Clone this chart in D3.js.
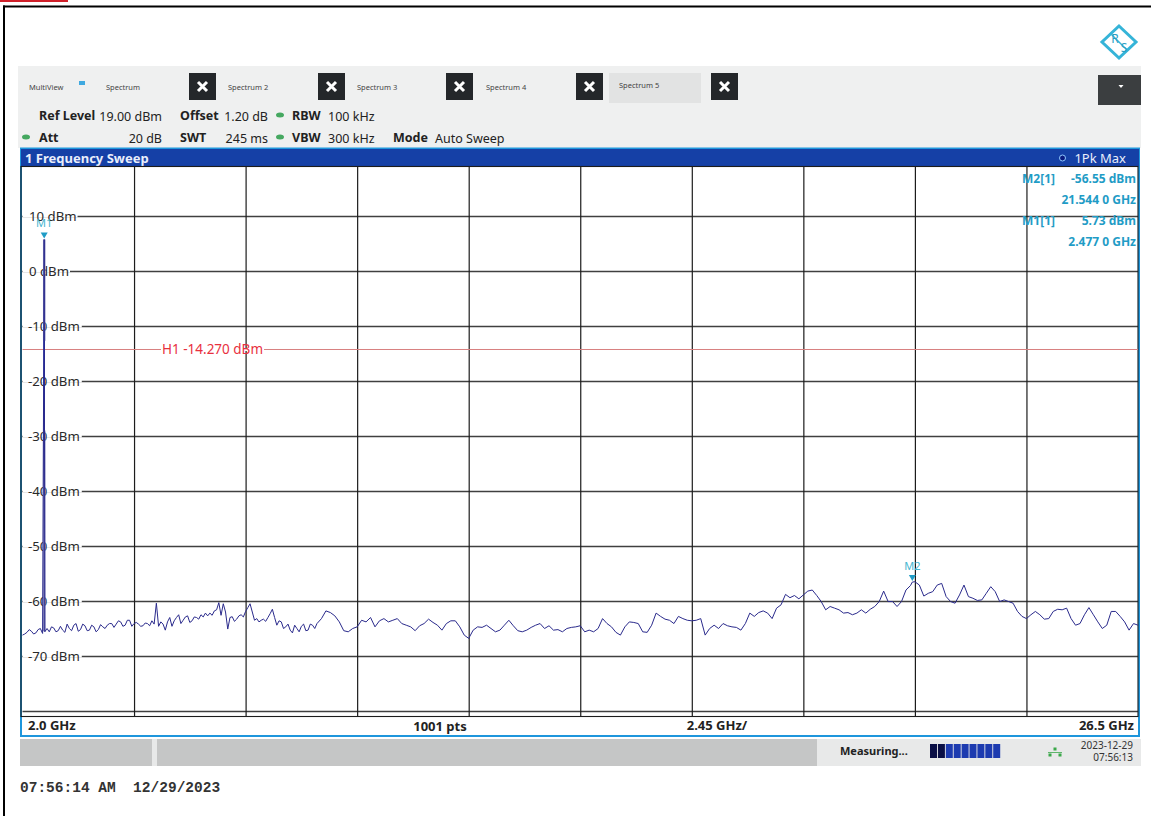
<!DOCTYPE html>
<html>
<head>
<meta charset="utf-8">
<script src="https://cdn.jsdelivr.net/npm/d3@7"></script>
<style>
html, body { margin: 0; padding: 0; background: #fff; }
svg { display: block; }
text { font-family: "Noto Sans", "Open Sans", sans-serif; white-space: pre; }
</style>
</head>
<body>
<div id="chart"></div>
<script>
// sweep: one value every 4th sweep point (0.098 GHz)
const startGHz = 2.0, stopGHz = 26.5, stepGHz = 0.098;
const traceDbm = [
  -66.2,-65.7,-65.5,-65.8,-65,-65.6,-65.6,-64.9,-65.4,-65.3,
  -64.2,-65.4,-64.1,-65.2,-64.5,-65.3,-64.7,-65.2,-64.7,-64.4,
  -64.1,-64.2,-63.8,-64.4,-63.5,-64.1,-64.2,-64.5,-64.1,-63.6,
  -60.4,-63.8,-65.3,-63,-63.6,-62.5,-63.5,-62.7,-63.6,-63,
  -62.5,-62.2,-62.2,-61.8,-60.3,-60.5,-65.1,-62.85,-63.3,-62.5,
  -61.9,-60.5,-63.5,-63.8,-63.3,-63,-61.5,-64.4,-63.8,-64.7,
  -65.3,-64.4,-65.6,-64.2,-65.3,-64.4,-64.1,-63.2,-61.8,-62.1,
  -62.7,-63.8,-65.4,-65.6,-65,-64.7,-63.5,-63.8,-63,-64.7,
  -63.6,-63.2,-63.8,-63.5,-63.2,-64.1,-64.4,-64.7,-65.4,-64.5,
  -64.1,-63.3,-63.9,-64.4,-65.3,-64.1,-63.6,-63.6,-64.7,-66.2,
  -66.8,-65.3,-64.7,-64.8,-64.4,-65,-65.6,-65.3,-64.4,-63.5,
  -64.5,-65.4,-65.6,-65.3,-64.8,-64.4,-64.1,-65,-64.5,-65.3,
  -65.2,-65.6,-65,-64.8,-64.7,-64.5,-65.6,-65.3,-65.6,-65,
  -63.2,-64.1,-64.7,-65.7,-66.2,-64.7,-63.8,-63.9,-64.1,-65.6,
  -65.7,-64.4,-62.2,-62.8,-63.3,-63.5,-64.1,-62.8,-63.2,-63.5,
  -63.6,-63.5,-63.2,-66.2,-65,-64.4,-65,-64.1,-64.5,-64.7,
  -64.8,-65.3,-64.1,-62.2,-62.8,-62.1,-61.8,-62.2,-63.2,-61.3,
  -60.7,-58.8,-59.4,-59,-59.6,-58.9,-58.2,-58,-59,-60.1,
  -61.6,-61,-61.3,-61.6,-62.2,-62.1,-62.5,-62.2,-61.6,-62.2,
  -61.5,-61,-60.1,-58.2,-60.1,-60.1,-61,-60.1,-58,-57.2,
  -56.5,-57.1,-59.1,-58.6,-58.3,-57.1,-56.8,-59.2,-60.1,-60.4,
  -58.9,-57.1,-59.2,-59.5,-59.9,-59.8,-58.6,-57.4,-58.3,-60.1,
  -59.8,-60.1,-60.4,-61.9,-62.8,-63.2,-62.5,-61.9,-62.5,-63.3,
  -63.2,-61.9,-61.5,-61.6,-61.3,-63.2,-64.4,-64.1,-62.5,-61.2,
  -62.5,-63.8,-65,-64.4,-61.9,-61.9,-62.8,-63.8,-65.3,-64.1,
  -64.4
];
// the low band is busier: in-between sweep points, 0.049 GHz after each value above
const traceBetweenDbm = [
  -66,-65.2,-66,-65.2,-65.9,-65,-64.7,-65.6,-64.6,-65.7,
  -65,-64.4,-65.5,-64.2,-65.4,-64.4,-65.6,-64.3,-65,-64.1,
  -64.8,-63.6,-64.6,-63.5,-64.6,-63.9,-64.6,-64,-64.5,-64.2,
  -64.6,-64.2,-63.8,-64.6,-63,-64.1,-62.9,-63.9,-62.9,-63.3,
  -62.9,-62.7,-62.6,-61.6,-62.6,-62,-63,-63.7,-62.7,-62.9,
  -61.2,-62,-63.2,-63.5,-63.7,-62.3,-63,-63.6,-65,-64.2,
  -65.8,-65,-64.6,-65.4,-64.2,-65
];

const markerNames = ['M1', 'M2'];
const markerGHz = [2.477, 21.544];
const markerDbm = [5.73, -56.55];

const levelTicks = [10, 0, -10, -20, -30, -40, -50, -60, -70];
const levelGrid = [10, 0, -10, -20, -30, -40, -50, -60, -70, -80];
const freqGrid = [4.45, 6.9, 9.35, 11.8, 14.25, 16.7, 19.15, 21.6, 24.05];
const h1Level = -14.27;

const tabNames = ['Spectrum', 'Spectrum 2', 'Spectrum 3', 'Spectrum 4', 'Spectrum 5'];
const tabTextX = [106, 228, 357, 486, 619];
const closeX = [189, 318, 446, 576, 711];
const progressColors = ['#0a0f45', '#0a0f45', '#1d3bb0', '#1d3bb0', '#1d3bb0', '#1d3bb0', '#1d3bb0', '#1d3bb0', '#1d3bb0'];

const width = 1151, height = 816;
const svg = d3.select('#chart').append('svg')
  .attr('width', width).attr('height', height);

const x = d3.scaleLinear().domain([startGHz, stopGHz]).range([22.5, 1138]);
const y = d3.scaleLinear().domain([19, -81]).range([166.5, 716.5]);

const cyan = '#1f9cc6';

function label(t, px, py, opt) {
  opt = opt || {};
  return svg.append('text').attr('x', px).attr('y', py)
    .attr('dominant-baseline', 'central')
    .attr('text-anchor', opt.anchor || 'start')
    .attr('font-size', opt.size || 12.5)
    .attr('font-weight', opt.bold ? 700 : 400)
    .attr('fill', opt.fill || '#222')
    .style('font-family', opt.family || null)
    .text(t);
}

function box(px, py, w, h, fill) {
  return svg.append('rect').attr('x', px).attr('y', py).attr('width', w).attr('height', h).attr('fill', fill);
}

// page frame
box(0, 0, 68, 2, '#d0202a');
box(3, 5.5, width, 2, '#000');
box(3, 5.5, 2, height, '#000');

// logo
const logo = svg.append('g').attr('transform', 'translate(1119,42)');
logo.append('path').attr('d', 'M0,-16L17,0L0,16L-17,0Z').attr('fill', 'none').attr('stroke', '#35b4d8').attr('stroke-width', 3);
logo.append('path').attr('d', 'M-9,-9L9,9').attr('stroke', '#35b4d8').attr('stroke-width', 1.5);
logo.append('text').attr('x', -4).attr('y', -4).attr('font-size', 12).attr('fill', '#2a9fc4').attr('text-anchor', 'middle').attr('dominant-baseline', 'central').text('R');
logo.append('text').attr('x', 5).attr('y', 5).attr('font-size', 12).attr('fill', '#2a9fc4').attr('text-anchor', 'middle').attr('dominant-baseline', 'central').text('S');

// header
box(18, 66, 1123, 82, '#eff0f0');
box(609, 73, 92, 30, '#e2e3e3');
box(79, 81, 6, 4, '#3fa9e0');
label('MultiView', 29, 86.5, { size: 7.5, fill: '#444' });
tabNames.forEach((t, i) => label(t, tabTextX[i], i === 4 ? 85 : 86.5, { size: 7.5, fill: '#444' }));
closeX.forEach(cx => {
  box(cx, 73, 27, 27, '#24272a');
  svg.append('path').attr('d', `M${cx + 9},82l9,9m0,-9l-9,9`).attr('stroke', '#fff').attr('stroke-width', 3);
});
box(1098, 75, 43, 30, '#3b3e40');
svg.append('path').attr('d', 'M1118.5,85h5l-2.5,3z').attr('fill', '#fff');

label('Ref Level', 39, 115, { bold: true });
label('19.00 dBm', 162, 116, { anchor: 'end' });
label('Offset', 180, 115, { bold: true });
label('1.20 dB', 268, 116, { anchor: 'end' });
label('RBW', 292, 115, { bold: true });
label('100 kHz', 328, 116);
label('Att', 39, 137, { bold: true });
label('20 dB', 162, 138, { anchor: 'end' });
label('SWT', 180, 137, { bold: true });
label('245 ms', 268, 138, { anchor: 'end' });
label('VBW', 292, 137, { bold: true });
label('300 kHz', 328, 138);
label('Mode', 393, 137, { bold: true });
label('Auto Sweep', 435, 138);
[[280, 115], [280, 137], [26, 137]].forEach(p => {
  svg.append('ellipse').attr('cx', p[0]).attr('cy', p[1]).attr('rx', 4).attr('ry', 2.5).attr('fill', '#45a860');
});

// plot panel
box(20, 147.5, 1120, 589.5, '#1e96dc');
box(22, 149, 1116, 586, '#fff');
box(21, 149, 1118, 17.5, '#1540a6');
label('1 Frequency Sweep', 25, 157.5, { bold: true, fill: '#e9eefb', size: 13 });
svg.append('circle').attr('cx', 1062.5).attr('cy', 158).attr('r', 3).attr('fill', '#0a1a80').attr('stroke', '#8fc8ff').attr('stroke-width', 1);
label('1Pk Max', 1126, 158, { anchor: 'end', fill: '#e9eefb', size: 13 });

// grid through the axis generators
const plotLeft = x.range()[0], plotRight = x.range()[1];
const plotTop = y.range()[0], plotBottom = y.range()[1];

const gridY = svg.append('g')
  .attr('transform', `translate(${plotLeft},0)`)
  .call(d3.axisRight(y).tickValues(levelGrid).tickSize(plotRight - plotLeft).tickFormat(''));
gridY.select('.domain').remove();
gridY.selectAll('line').attr('stroke', '#404040').attr('stroke-width', 1.3);

const gridX = svg.append('g')
  .attr('transform', `translate(0,${plotTop})`)
  .call(d3.axisBottom(x).tickValues(freqGrid).tickSize(plotBottom - plotTop).tickFormat(''));
gridX.select('.domain').remove();
gridX.selectAll('line').attr('stroke', '#1c1c1c').attr('stroke-width', 1.2);

svg.append('rect').attr('x', 21).attr('y', plotTop).attr('width', plotRight - 21)
  .attr('height', plotBottom - plotTop).attr('fill', 'none').attr('stroke', '#1c1c1c').attr('stroke-width', 1.1);

// display line
svg.append('line').attr('x1', plotLeft).attr('x2', plotRight)
  .attr('y1', y(h1Level)).attr('y2', y(h1Level))
  .attr('stroke', '#d88080').attr('stroke-width', 1);
const h1Mask = box(161, y(h1Level) - 1.5, 0, 3, '#fff');
const h1Text = label('H1 -14.270 dBm', 162, y(h1Level), { fill: '#e8303e', size: 13.5 });
h1Mask.attr('width', h1Text.node().getComputedTextLength() + 2);

// level labels sit on the grid line, masking it
levelTicks.forEach(v => {
  const mask = box(23, y(v) - 1.5, 0, 3, '#fff');
  const t = label(v + ' dBm', v < 0 ? 28 : 29, y(v), { size: 13.2, fill: '#2a2a2a' });
  mask.attr('width', t.node().getComputedTextLength() + 7);
});

// M1 stem: pale where the trace stacks, thin blue in the middle
const stemX = x(markerGHz[0]);
const stemPale = [[markerDbm[0], -12.7], [-29, -65.5]];
stemPale.forEach(s => {
  svg.append('line').attr('x1', stemX).attr('x2', stemX).attr('y1', y(s[0])).attr('y2', y(s[1]))
    .attr('stroke', '#8585bd').attr('stroke-width', 2.5);
});
svg.append('line').attr('x1', stemX).attr('x2', stemX).attr('y1', y(-12.7)).attr('y2', y(-29))
  .attr('stroke', '#1030e0').attr('stroke-width', 1.5);

// trace
const points = traceDbm.map((v, i) => [startGHz + i * stepGHz, v])
  .concat(traceBetweenDbm.map((v, i) => [startGHz + (i + 0.5) * stepGHz, v]))
  .concat(markerGHz.map((f, i) => [f, markerDbm[i]]))
  .sort((a, b) => a[0] - b[0]);
const traceLine = d3.line().x(d => x(d[0])).y(d => y(d[1]));
svg.append('path').datum(points).attr('d', traceLine)
  .attr('fill', 'none').attr('stroke', '#2a2a8c').attr('stroke-width', 1);

// markers
markerNames.forEach((m, i) => {
  const mx = x(markerGHz[i]), my = y(markerDbm[i]);
  svg.append('path').attr('d', `M${mx - 3.5},${my - 7}h7l-3.5,6z`).attr('fill', '#1f9cc6');
  label(m, mx, my - 17, { anchor: 'middle', size: 11, fill: '#45b5cf' });
});

// marker table
label('M2[1]', 1022, 178, { fill: cyan, size: 12, bold: true });
label('-56.55 dBm', 1136, 178, { anchor: 'end', fill: cyan, size: 12, bold: true });
label('21.544 0 GHz', 1136, 199, { anchor: 'end', fill: cyan, size: 12, bold: true });
label('M1[1]', 1022, 220, { fill: cyan, size: 12, bold: true });
label('5.73 dBm', 1136, 220, { anchor: 'end', fill: cyan, size: 12, bold: true });
label('2.477 0 GHz', 1136, 241, { anchor: 'end', fill: cyan, size: 12, bold: true });

// footer row
label('2.0 GHz', 28, 725, { bold: true, size: 13 });
label('1001 pts', 440, 725.5, { bold: true, size: 13, anchor: 'middle' });
label('2.45 GHz/', 717, 725, { bold: true, size: 13, anchor: 'middle' });
label('26.5 GHz', 1134, 725, { bold: true, size: 13, anchor: 'end' });

// status bar
box(20, 739, 1121, 27, '#e8e9e9');
box(20, 739, 132, 27, '#c5c6c6');
box(157, 739, 660, 27, '#c5c6c6');
label('Measuring...', 840, 750.5, { bold: true, size: 11, fill: '#222' });
progressColors.forEach((c, i) => box(930 + i * 7.9, 744, 7, 14, c));
[[1055, 749], [1050, 755], [1060, 755]].forEach(p => box(p[0] - 1.5, p[1] - 1.5, 3, 3, '#3aa84a'));
svg.append('path').attr('d', 'M1048,752.5h14').attr('stroke', '#3aa84a').attr('stroke-width', 0.8);
label('2023-12-29', 1133, 745, { anchor: 'end', size: 10, fill: '#333' });
label('07:56:13', 1133, 757, { anchor: 'end', size: 10, fill: '#333' });

// print stamp
label('07:56:14 AM  12/29/2023', 20, 788, { family: '"Liberation Mono", monospace', size: 14.5, bold: true, fill: '#333' });
</script>
</body>
</html>
